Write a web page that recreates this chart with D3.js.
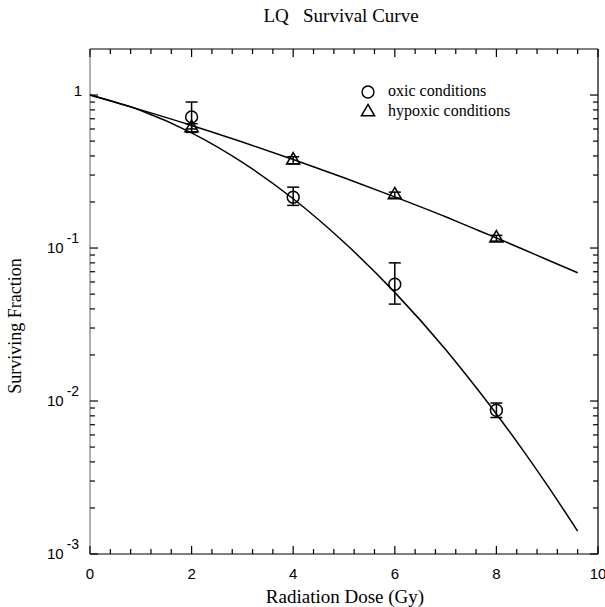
<!DOCTYPE html>
<html>
<head>
<meta charset="utf-8">
<script src="https://cdn.jsdelivr.net/npm/d3@7"></script>
<style>
  body { margin: 0; background: #fff; }
  svg { display: block; }
  .tick-label { font-family: "Liberation Sans", Arial, sans-serif; font-size: 15px; fill: #000; }
  .serif { font-family: "Liberation Serif", "Times New Roman", serif; fill: #000; }
</style>
</head>
<body>
<div id="chart"></div>
<script>
// Measured points (dose in Gy, surviving fraction, error bar low/high)
const doses = [2, 4, 6, 8];
const oxicSF = [0.72, 0.215, 0.058, 0.0087];
const oxicLow = [0.60, 0.19, 0.043, 0.0078];
const oxicHigh = [0.90, 0.25, 0.080, 0.0097];
const hypoxicSF = [0.61, 0.375, 0.222, 0.116];
const hypoxicLow = [0.57, 0.355, 0.212, 0.111];
const hypoxicHigh = [0.65, 0.395, 0.232, 0.121];

// Fitted curves
const curveDose = [0, 1, 2, 3, 4, 5, 6, 7, 7.5, 8, 8.5, 9, 9.6];
const oxicCurve = [1, 0.793, 0.566, 0.363, 0.210, 0.109, 0.0513, 0.0217, 0.0135, 0.00823, 0.00488, 0.00282, 0.00141];
const hypoxicCurve = [1, 0.800, 0.633, 0.493, 0.379, 0.288, 0.216, 0.160, 0.1365, 0.1165, 0.0990, 0.0838, 0.0690];

// Axis ticks
const xMajor = [0, 2, 4, 6, 8, 10];
const yDecades = [1e-3, 1e-2, 1e-1, 1];
const yDecadeLabels = [["10", "-3"], ["10", "-2"], ["10", "-1"], ["1", ""]];

const legendLabels = ["oxic conditions", "hypoxic conditions"];

const W = 605, H = 607;
const margin = { top: 49, right: 7, bottom: 53, left: 90 };
const width = W - margin.left - margin.right;
const height = H - margin.top - margin.bottom;

const svg = d3.select('#chart')
    .append('svg')
    .attr('width', W)
    .attr('height', H);

const g = svg.append('g')
    .attr('transform', `translate(${margin.left},${margin.top})`);

const x = d3.scaleLinear().domain([0, 10]).range([0, width]);
const y = d3.scaleLog().domain([1e-3, 2]).range([height, 0]);

// minor ticks
const xMinor = d3.range(0, 10.001, 0.4).map(v => +v.toFixed(1)).filter(v => !xMajor.includes(v));
const yMinor = [];
yDecades.forEach(dec => {
    d3.range(2, 10).forEach(k => {
        const v = dec * k;
        if (v < 2) yMinor.push(v);
    });
});

const majorLen = 8, minorLen = 5;

// Frame
g.append('line').attr('x1', 0).attr('x2', width).attr('y1', 0).attr('y2', 0)
    .attr('stroke', '#000').attr('stroke-width', 1.2);
g.append('line').attr('x1', width).attr('x2', width).attr('y1', 0).attr('y2', height)
    .attr('stroke', '#000').attr('stroke-width', 1.2);
g.append('line').attr('x1', 0).attr('x2', width).attr('y1', height).attr('y2', height)
    .attr('stroke', '#000').attr('stroke-width', 1.2);
g.append('line').attr('x1', 0).attr('x2', 0).attr('y1', 0).attr('y2', height)
    .attr('stroke', '#999').attr('stroke-width', 1.5);

// X ticks (bottom and top, inward)
const xTicks = xMajor.map(v => ({ v, len: majorLen })).concat(xMinor.map(v => ({ v, len: minorLen })));
g.selectAll('.xtick-b')
    .data(xTicks)
    .enter()
    .append('line')
    .attr('x1', d => x(d.v)).attr('x2', d => x(d.v))
    .attr('y1', height).attr('y2', d => height - d.len)
    .attr('stroke', '#000').attr('stroke-width', 1.2);
g.selectAll('.xtick-t')
    .data(xTicks)
    .enter()
    .append('line')
    .attr('x1', d => x(d.v)).attr('x2', d => x(d.v))
    .attr('y1', 0).attr('y2', d => d.len)
    .attr('stroke', '#000').attr('stroke-width', 1.2);

g.selectAll('.xlabel')
    .data(xMajor)
    .enter()
    .append('text')
    .attr('class', 'tick-label')
    .attr('x', d => x(d))
    .attr('y', height + 25)
    .attr('text-anchor', 'middle')
    .text(d => d);

// Y ticks (left and right, inward)
const yTicks = yDecades.map(v => ({ v, len: majorLen })).concat(yMinor.map(v => ({ v, len: minorLen })));
g.selectAll('.ytick-l')
    .data(yTicks)
    .enter()
    .append('line')
    .attr('x1', 0).attr('x2', d => d.len)
    .attr('y1', d => y(d.v)).attr('y2', d => y(d.v))
    .attr('stroke', '#000').attr('stroke-width', 1.2);
g.selectAll('.ytick-r')
    .data(yTicks)
    .enter()
    .append('line')
    .attr('x1', width).attr('x2', d => width - d.len)
    .attr('y1', d => y(d.v)).attr('y2', d => y(d.v))
    .attr('stroke', '#000').attr('stroke-width', 1.2);

// Y labels
yDecades.forEach((v, i) => {
    const [base, sup] = yDecadeLabels[i];
    if (sup === '') {
        g.append('text')
            .attr('class', 'tick-label')
            .attr('x', -8)
            .attr('y', y(v) + 1)
            .attr('text-anchor', 'end')
            .text(base);
    } else {
        const t = g.append('text')
            .attr('class', 'tick-label')
            .attr('x', -43)
            .attr('y', y(v) + 5);
        t.append('tspan').text(base);
        t.append('tspan')
            .attr('dx', 3)
            .attr('dy', -10)
            .style('font-size', '14px')
            .text(sup);
    }
});

// Curves
const line = d3.line()
    .x(d => x(d[0]))
    .y(d => y(d[1]))
    .curve(d3.curveMonotoneX);

g.append('path')
    .datum(curveDose.map((d, i) => [d, oxicCurve[i]]))
    .attr('d', line)
    .attr('fill', 'none')
    .attr('stroke', '#000')
    .attr('stroke-width', 1.5);

g.append('path')
    .datum(curveDose.map((d, i) => [d, hypoxicCurve[i]]))
    .attr('d', line)
    .attr('fill', 'none')
    .attr('stroke', '#000')
    .attr('stroke-width', 1.5);

// Error bars
function errorBars(low, high) {
    const capW = 6;
    doses.forEach((d, i) => {
        const cx = x(d);
        g.append('line')
            .attr('x1', cx).attr('x2', cx)
            .attr('y1', y(low[i])).attr('y2', y(high[i]))
            .attr('stroke', '#000').attr('stroke-width', 1.5);
        [low[i], high[i]].forEach(v => {
            g.append('line')
                .attr('x1', cx - capW).attr('x2', cx + capW)
                .attr('y1', y(v)).attr('y2', y(v))
                .attr('stroke', '#000').attr('stroke-width', 1.5);
        });
    });
}
errorBars(oxicLow, oxicHigh);
errorBars(hypoxicLow, hypoxicHigh);

// Markers
const circleSym = d3.symbol().type(d3.symbolCircle).size(110);
const triSym = d3.symbol().type(d3.symbolTriangle).size(75);

g.selectAll('.oxic')
    .data(doses)
    .enter()
    .append('path')
    .attr('d', circleSym)
    .attr('transform', (d, i) => `translate(${x(d)},${y(oxicSF[i])})`)
    .attr('fill', 'none')
    .attr('stroke', '#000')
    .attr('stroke-width', 1.5);

g.selectAll('.hyp')
    .data(doses)
    .enter()
    .append('path')
    .attr('d', triSym)
    .attr('transform', (d, i) => `translate(${x(d)},${y(hypoxicSF[i])})`)
    .attr('fill', 'none')
    .attr('stroke', '#000')
    .attr('stroke-width', 1.5);

// Legend
const legend = svg.append('g').attr('transform', 'translate(368, 92)');
legend.append('path').attr('d', circleSym)
    .attr('fill', 'none').attr('stroke', '#000').attr('stroke-width', 1.5);
legend.append('path').attr('d', triSym).attr('transform', 'translate(0,20)')
    .attr('fill', 'none').attr('stroke', '#000').attr('stroke-width', 1.5);
legendLabels.forEach((t, i) => {
    legend.append('text')
        .attr('class', 'serif')
        .attr('x', 20)
        .attr('y', i * 20 + 4)
        .style('font-size', '16px')
        .text(t);
});

// Title and axis labels
svg.append('text')
    .attr('class', 'serif')
    .attr('x', 341)
    .attr('y', 22)
    .attr('text-anchor', 'middle')
    .style('font-size', '19px')
    .attr('xml:space', 'preserve')
    .text('LQ   Survival Curve');

svg.append('text')
    .attr('class', 'serif')
    .attr('x', 345)
    .attr('y', 603)
    .attr('text-anchor', 'middle')
    .style('font-size', '19px')
    .text('Radiation Dose (Gy)');

svg.append('text')
    .attr('class', 'serif')
    .attr('transform', 'translate(21, 326) rotate(-90)')
    .attr('text-anchor', 'middle')
    .style('font-size', '18px')
    .text('Surviving Fraction');
</script>
</body>
</html>
